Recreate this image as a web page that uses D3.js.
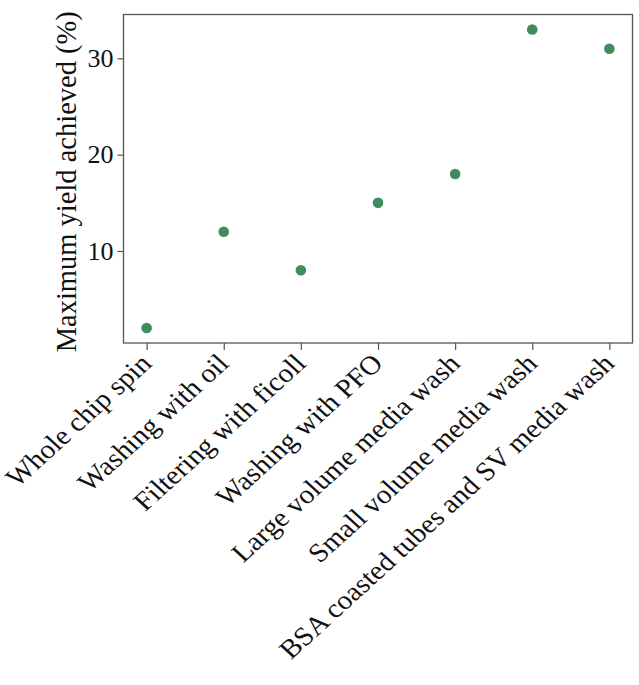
<!DOCTYPE html>
<html>
<head>
<meta charset="utf-8">
<script src="https://cdn.jsdelivr.net/npm/d3@7"></script>
<style>
  html, body { margin: 0; padding: 0; background: #fff; }
  svg { display: block; }
  text { font-family: "Liberation Serif", "Times New Roman", serif; fill: #111; }
</style>
</head>
<body>
<svg id="chart" width="639" height="685"></svg>
<script>
const categories = [
  "Whole chip spin",
  "Washing with oil",
  "Filtering with ficoll",
  "Washing with PFO",
  "Large volume media wash",
  "Small volume media wash",
  "BSA coasted tubes and SV media wash"
];
const yieldValues = [2, 12, 8, 15, 18, 33, 31];
const yTicks = [10, 20, 30];
const yLabel = "Maximum yield achieved (%)";

const svg = d3.select("#chart");
const plotLeft = 123.5, plotRight = 632.5, plotTop = 14.5, plotBottom = 343;

const xIdx = d3.scaleLinear().domain([-0.3, categories.length - 1 + 0.3]).range([plotLeft, plotRight]);
const yMin = d3.min(yieldValues), yMax = d3.max(yieldValues);
const yPad = (yMax - yMin) * 0.05;
const y = d3.scaleLinear().domain([yMin - yPad, yMax + yPad]).range([plotBottom, plotTop]);

// y axis
const yAxis = svg.append("g")
  .attr("transform", `translate(${plotLeft},0)`)
  .call(d3.axisLeft(y).tickValues(yTicks).tickSize(6).tickPadding(4).tickFormat(d3.format("d")));
yAxis.select(".domain").remove();
yAxis.selectAll(".tick line").attr("stroke", "#555").attr("stroke-width", 1.2);
yAxis.selectAll(".tick text").style("font-size", "26px")
  .style("font-family", '"Liberation Serif", serif').attr("fill", "#111");

// x axis
const xAxis = svg.append("g")
  .attr("transform", `translate(0,${plotBottom})`)
  .call(d3.axisBottom(xIdx).tickValues(d3.range(categories.length)).tickSize(7).tickFormat(i => categories[i]));
xAxis.select(".domain").remove();
xAxis.selectAll(".tick line").attr("stroke", "#555").attr("stroke-width", 1.2);
xAxis.selectAll(".tick text")
  .style("font-size", "26.6px")
  .style("font-family", '"Liberation Serif", serif')
  .attr("fill", "#111")
  .attr("text-anchor", "end")
  .attr("y", 0)
  .attr("dy", 0)
  .attr("transform", "translate(6,22) scale(1.1,1) rotate(-45)");

// frame
svg.append("rect")
  .attr("x", plotLeft).attr("y", plotTop)
  .attr("width", plotRight - plotLeft).attr("height", plotBottom - plotTop)
  .attr("fill", "none").attr("stroke", "#555").attr("stroke-width", 1.3);

// points
svg.append("g").selectAll("circle")
  .data(yieldValues)
  .join("circle")
  .attr("cx", (d, i) => xIdx(i))
  .attr("cy", d => y(d))
  .attr("r", 5.3)
  .attr("fill", "#3f8c5c");

// y label
svg.append("text")
  .attr("transform", `translate(76,${(plotTop + plotBottom) / 2 + 3}) rotate(-90)`)
  .attr("text-anchor", "middle")
  .style("font-size", "28.5px")
  .text(yLabel);
</script>
</body>
</html>
